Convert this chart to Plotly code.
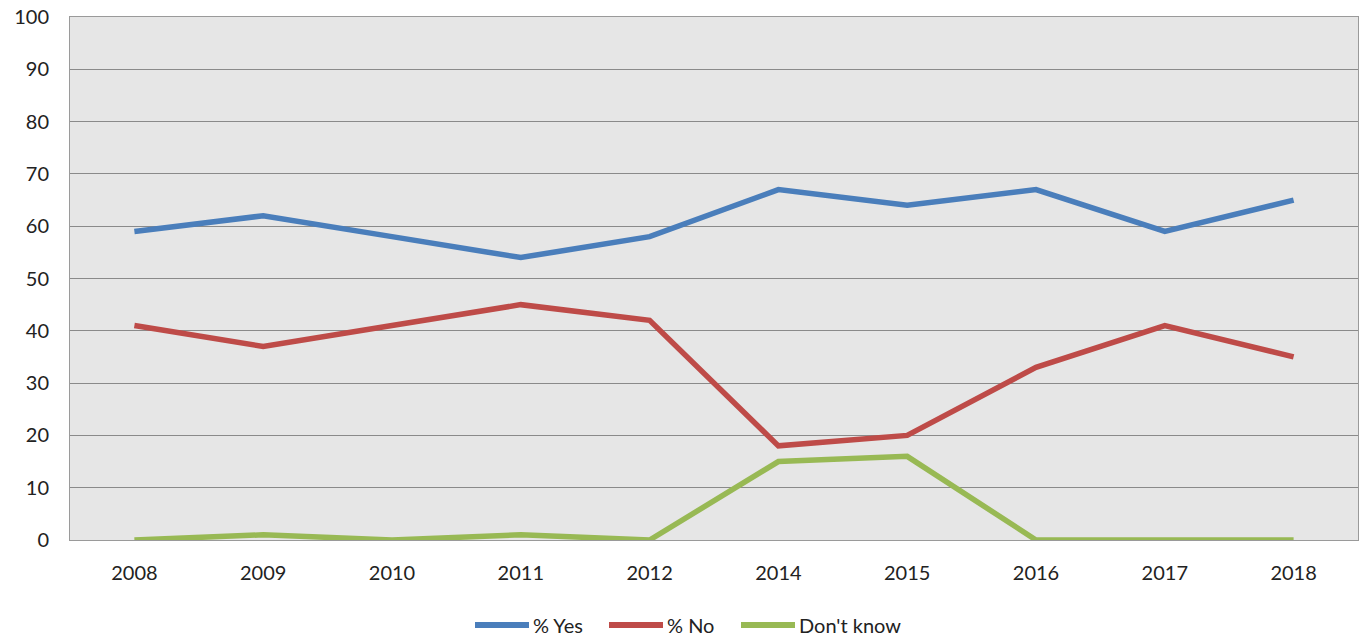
import plotly.graph_objects as go

# Survey years (2013 not polled)
years = ["2008", "2009", "2010", "2011", "2012", "2014", "2015", "2016", "2017", "2018"]

pct_yes = [59, 62, 58, 54, 58, 67, 64, 67, 59, 65]
pct_no = [41, 37, 41, 45, 42, 18, 20, 33, 41, 35]
dont_know = [0, 1, 0, 1, 0, 15, 16, 0, 0, 0]

y_ticks = [0, 10, 20, 30, 40, 50, 60, 70, 80, 90, 100]

series = [
    ("% Yes", pct_yes, "#4A7EBB"),
    ("% No", pct_no, "#BE4B48"),
    ("Don't know", dont_know, "#98B954"),
]

W, H = 1370, 642
M_L, M_R, M_T, M_B = 70, 12, 17, 102
plot_w = W - M_L - M_R
plot_h = H - M_T - M_B

font_family = "Lato, 'Open Sans', sans-serif"

fig = go.Figure()
for name, values, color in series:
    fig.add_trace(go.Scatter(
        x=years, y=values, name=name, mode="lines",
        line=dict(color=color, width=5.5), showlegend=False,
    ))

# Legend drawn below the plot: long line swatch followed by its label
legend_start_px = [475, 609, 741]   # left end of each swatch, in pixels
swatch_len = 54
legend_y_px = 625
ly = -(legend_y_px - (H - M_B)) / plot_h
shapes, annotations = [], []
for (name, _, color), x0 in zip(series, legend_start_px):
    xa = (x0 - M_L) / plot_w
    xb = (x0 + swatch_len - M_L) / plot_w
    shapes.append(dict(type="line", xref="paper", yref="paper",
                       x0=xa, x1=xb, y0=ly, y1=ly,
                       line=dict(color=color, width=6)))
    annotations.append(dict(text=name, xref="paper", yref="paper",
                            x=xb + 2 / plot_w, y=ly, xanchor="left", yanchor="middle",
                            showarrow=False,
                            font=dict(family=font_family, size=20, color="#222222")))

fig.update_layout(
    width=W, height=H,
    margin=dict(l=M_L, r=M_R, t=M_T, b=M_B, autoexpand=False),
    paper_bgcolor="white",
    plot_bgcolor="#E6E6E6",
    font=dict(family=font_family, size=20, color="#222222"),
    showlegend=False,
    shapes=shapes,
    annotations=annotations,
    xaxis=dict(
        type="category", range=[-0.5, len(years) - 0.5],
        showgrid=False, ticks="",
        showline=True, linecolor="#9A9A9A", linewidth=1, mirror=True,
        tickfont=dict(size=20), ticklabelstandoff=15,
    ),
    yaxis=dict(
        range=[0, 100], tickvals=y_ticks, showgrid=True,
        gridcolor="#8A8A8A", gridwidth=1, zeroline=False,
        showline=True, linecolor="#9A9A9A", linewidth=1, mirror=True,
        tickfont=dict(size=20), ticklabelstandoff=16,
    ),
)

fig.write_html("out.html")
